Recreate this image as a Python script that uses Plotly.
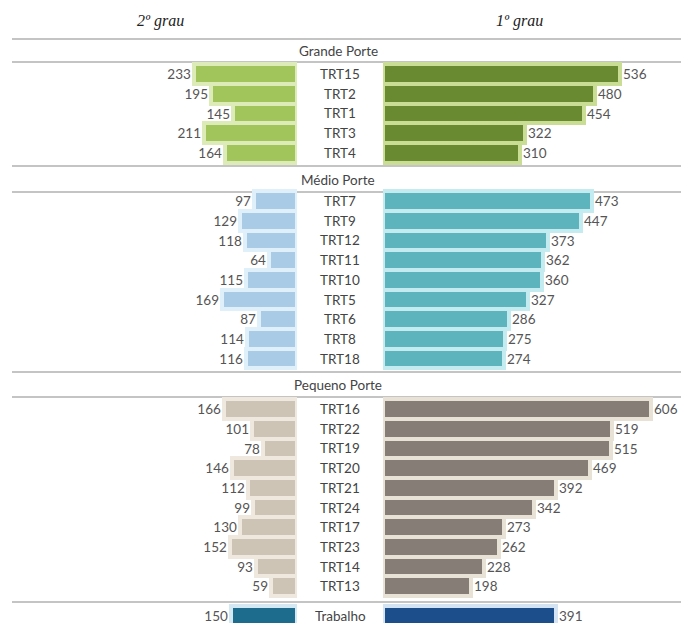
import plotly.graph_objects as go

W, H = 692, 623

# --- data -------------------------------------------------------------
grande_cats = ["TRT15", "TRT2", "TRT1", "TRT3", "TRT4"]
grande_2g = [233, 195, 145, 211, 164]
grande_1g = [536, 480, 454, 322, 310]

medio_cats = ["TRT7", "TRT9", "TRT12", "TRT11", "TRT10", "TRT5", "TRT6", "TRT8", "TRT18"]
medio_2g = [97, 129, 118, 64, 115, 169, 87, 114, 116]
medio_1g = [473, 447, 373, 362, 360, 327, 286, 275, 274]

pequeno_cats = ["TRT16", "TRT22", "TRT19", "TRT20", "TRT21", "TRT24", "TRT17", "TRT23", "TRT14", "TRT13"]
pequeno_2g = [166, 101, 78, 146, 112, 99, 130, 152, 93, 59]
pequeno_1g = [606, 519, 515, 469, 392, 342, 273, 262, 228, 198]

total_cats = ["Trabalho"]
total_2g = [150]
total_1g = [391]

section_titles = ["Grande Porte", "Médio Porte", "Pequeno Porte"]
col_titles = ["2º grau", "1º grau"]

# --- layout constants (pixel space; y axis runs top-down) ------------
PITCH = 19.7
SCALE = 0.442               # px per unit on both sides
LEFT_END = 297              # where 2º grau bars start (px)
RIGHT_START = 383           # where 1º grau bars start (px)
MID_X = 340                 # label column centre
FONT = "Lato"
TXT = "#555555"

sections = [
    dict(cats=grande_cats, v2=grande_2g, v1=grande_1g, y0=74, head=51, lines=[39, 62],
         c2="#a2c55b", l2="#dcebb8", c1="#6a8a31", l1="#c9de94"),
    dict(cats=medio_cats, v2=medio_2g, v1=medio_1g, y0=201, head=180, lines=[166, 192],
         c2="#a9cbe6", l2="#dff0fa", c1="#5db4bd", l1="#c4ebf0"),
    dict(cats=pequeno_cats, v2=pequeno_2g, v1=pequeno_1g, y0=409, head=385, lines=[372, 397],
         c2="#cec4b6", l2="#eee8de", c1="#867d76", l1="#e8e1d6"),
    dict(cats=total_cats, v2=total_2g, v1=total_1g, y0=616, head=None, lines=[602],
         c2="#1d6c8e", l2="#d3e8f3", c1="#1c4e8b", l1="#d3e3f3"),
]

fig = go.Figure()
annotations = []
shapes = []

for k, s in enumerate(sections):
    n = len(s["cats"])
    ys = [s["y0"] + i * PITCH for i in range(n)]
    common = dict(orientation="h", width=PITCH, textposition="outside",
                  cliponaxis=False, constraintext="none",
                  textfont=dict(family=FONT, size=13.5, color=TXT),
                  hoverinfo="skip", showlegend=False)
    fig.add_trace(go.Bar(x=s["v2"], y=ys, text=[str(v) for v in s["v2"]],
                         marker=dict(color=s["c2"], line=dict(color=s["l2"], width=4)),
                         xaxis="x", yaxis="y", **common))
    fig.add_trace(go.Bar(x=s["v1"], y=ys, text=[str(v) for v in s["v1"]],
                         marker=dict(color=s["c1"], line=dict(color=s["l1"], width=4)),
                         xaxis="x2", yaxis="y", **common))
    for c, y in zip(s["cats"], ys):
        annotations.append(dict(x=MID_X / W, y=y, xref="paper", yref="y", text=c,
                                showarrow=False, xanchor="center", yanchor="middle",
                                font=dict(family=FONT, size=13.5, color="#444444")))
    if s["head"] is not None:
        annotations.append(dict(x=(MID_X - 2) / W, y=s["head"], xref="paper", yref="y",
                                text=section_titles[k], showarrow=False,
                                xanchor="center", yanchor="middle",
                                font=dict(family=FONT, size=13.5, color="#444444")))
    for ly in s["lines"]:
        shapes.append(dict(type="line", xref="paper", yref="y", x0=12 / W, x1=681 / W,
                           y0=ly, y1=ly, line=dict(color="#c4c4c4", width=2), layer="below"))

# column titles
for t, xpx in zip(col_titles, [160, 519]):
    annotations.append(dict(x=xpx / W, y=21, xref="paper", yref="y", text=f"<i>{t}</i>",
                            showarrow=False, xanchor="center", yanchor="middle",
                            font=dict(family="Liberation Serif", size=16, color="#222222")))

axis_off = dict(showgrid=False, zeroline=False, showticklabels=False, showline=False, ticks="")

fig.update_layout(
    width=W, height=H, margin=dict(l=0, r=0, t=0, b=0),
    paper_bgcolor="white", plot_bgcolor="white",
    barmode="overlay", bargap=0,
    xaxis=dict(domain=[0, LEFT_END / W], range=[LEFT_END / SCALE, 0], **axis_off),
    xaxis2=dict(domain=[RIGHT_START / W, 1], range=[0, (W - RIGHT_START) / SCALE],
                anchor="y", **axis_off),
    yaxis=dict(domain=[0, 1], range=[H, 0], **axis_off),
    annotations=annotations, shapes=shapes,
)

fig.write_html("out.html")
